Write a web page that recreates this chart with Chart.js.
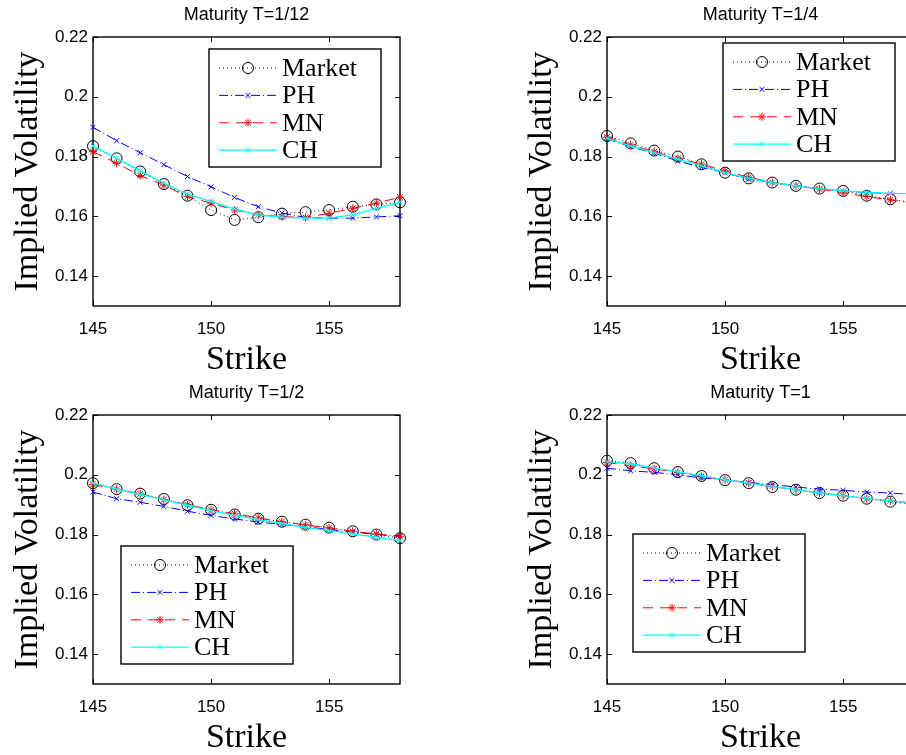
<!DOCTYPE html>
<html>
<head>
<meta charset="utf-8">
<title>Implied volatility by maturity</title>
<script src="https://cdn.jsdelivr.net/npm/chart.js@4.4.0/dist/chart.umd.min.js"></script>
<style>
  html, body { margin: 0; padding: 0; background: #fff; overflow: hidden; width: 906px; height: 755px; }
  canvas { position: absolute; }
</style>
</head>
<body>
<canvas id="c1" width="453" height="377" style="left:0;top:0"></canvas>
<canvas id="c2" width="453" height="377" style="left:514px;top:0"></canvas>
<canvas id="c3" width="453" height="377" style="left:0;top:378px"></canvas>
<canvas id="c4" width="453" height="377" style="left:514px;top:378px"></canvas>
<script>
// strikes and axis ticks
const STRIKES = [145, 146, 147, 148, 149, 150, 151, 152, 153, 154, 155, 156, 157, 158];
const X_TICKS = [145, 150, 155];
const Y_TICKS = [0.14, 0.16, 0.18, 0.2, 0.22];
const Y_TICK_LABELS = ["0.14", "0.16", "0.18", "0.2", "0.22"];
const SERIES_NAMES = ["Market", "PH", "MN", "CH"];

// T = 1/12
const MARKET_T12 = [0.1835, 0.1794, 0.1750, 0.1708, 0.1669, 0.1621, 0.1588, 0.1597, 0.1609, 0.1614, 0.1621, 0.1632, 0.1640, 0.1647];
const PH_T12     = [0.1898, 0.1853, 0.1813, 0.1773, 0.1733, 0.1699, 0.1663, 0.1632, 0.1611, 0.1596, 0.1594, 0.1594, 0.1598, 0.1602];
const MN_T12     = [0.1816, 0.1778, 0.1736, 0.1704, 0.1666, 0.1644, 0.1621, 0.1605, 0.1599, 0.1596, 0.1610, 0.1627, 0.1644, 0.1664];
const CH_T12     = [0.1835, 0.1794, 0.1753, 0.1711, 0.1674, 0.1649, 0.1624, 0.1605, 0.1597, 0.1594, 0.1594, 0.1605, 0.1627, 0.1647];

// T = 1/4
const MARKET_T4 = [0.1869, 0.1844, 0.1820, 0.1800, 0.1774, 0.1746, 0.1727, 0.1713, 0.1702, 0.1693, 0.1685, 0.1669, 0.1657, 0.1645];
const PH_T4     = [0.1859, 0.1833, 0.1811, 0.1785, 0.1764, 0.1746, 0.1724, 0.1713, 0.1702, 0.1693, 0.1685, 0.1679, 0.1677, 0.1676];
const MN_T4     = [0.1865, 0.1839, 0.1816, 0.1794, 0.1775, 0.1752, 0.1731, 0.1713, 0.1702, 0.1691, 0.1679, 0.1666, 0.1655, 0.1644];
const CH_T4     = [0.1861, 0.1835, 0.1813, 0.1791, 0.1769, 0.1746, 0.1727, 0.1713, 0.1702, 0.1693, 0.1685, 0.1680, 0.1677, 0.1676];

// T = 1/2
const MARKET_T2 = [0.1972, 0.1952, 0.1937, 0.1919, 0.1898, 0.1883, 0.1867, 0.1853, 0.1843, 0.1833, 0.1823, 0.1811, 0.1800, 0.1788];
const PH_T2     = [0.1942, 0.1920, 0.1908, 0.1894, 0.1878, 0.1864, 0.1852, 0.1842, 0.1834, 0.1826, 0.1817, 0.1808, 0.1801, 0.1794];
const MN_T2     = [0.1967, 0.1952, 0.1936, 0.1917, 0.1900, 0.1883, 0.1870, 0.1856, 0.1843, 0.1832, 0.1822, 0.1811, 0.1802, 0.1794];
const CH_T2     = [0.1972, 0.1952, 0.1934, 0.1917, 0.1898, 0.1880, 0.1864, 0.1850, 0.1837, 0.1824, 0.1813, 0.1802, 0.1791, 0.1780];

// T = 1
const MARKET_T1 = [0.2047, 0.2039, 0.2022, 0.2009, 0.1996, 0.1982, 0.1972, 0.1959, 0.1950, 0.1939, 0.1930, 0.1920, 0.1910, 0.1900];
const PH_T1     = [0.2022, 0.2013, 0.2008, 0.2000, 0.1989, 0.1983, 0.1974, 0.1967, 0.1959, 0.1952, 0.1948, 0.1942, 0.1939, 0.1933];
const MN_T1     = [0.2041, 0.2030, 0.2020, 0.2008, 0.1994, 0.1983, 0.1972, 0.1961, 0.1950, 0.1939, 0.1930, 0.1920, 0.1913, 0.1905];
const CH_T1     = [0.2044, 0.2036, 0.2023, 0.2010, 0.1997, 0.1983, 0.1972, 0.1961, 0.1950, 0.1939, 0.1930, 0.1921, 0.1913, 0.1906];

const SANS = 'Arial, "Liberation Sans", sans-serif';
const SERIF = '"Liberation Serif", "Times New Roman", serif';

// line / marker look of each series (matlab style)
const STYLES = [
  { color: "#000000", dash: [1, 3], pointStyle: "circle", radius: 5.5, width: 1 },
  { color: "#0000ff", dash: [9, 3, 1, 3], pointStyle: "crossRot", radius: 3.5, width: 1 },
  { color: "#ff0000", dash: [10, 7], pointStyle: "star", radius: 4, width: 1 },
  { color: "#00ffff", dash: [], pointStyle: "crossRot", radius: 3.5, width: 1.3 }
];

// full box + inward ticks on all four sides
const boxPlugin = {
  id: "matlabBox",
  beforeDatasetsDraw(chart) {
    const { ctx, chartArea: a, scales } = chart;
    ctx.save();
    ctx.strokeStyle = "#000";
    ctx.lineWidth = 1.4;
    ctx.strokeRect(a.left, a.top, a.right - a.left, a.bottom - a.top);
    ctx.lineWidth = 1;
    ctx.beginPath();
    X_TICKS.forEach(v => {
      const px = Math.round(scales.x.getPixelForValue(v)) + 0.5;
      ctx.moveTo(px, a.bottom); ctx.lineTo(px, a.bottom - 5);
      ctx.moveTo(px, a.top); ctx.lineTo(px, a.top + 5);
    });
    Y_TICKS.forEach(v => {
      const py = Math.round(scales.y.getPixelForValue(v)) + 0.5;
      ctx.moveTo(a.left, py); ctx.lineTo(a.left + 5, py);
      ctx.moveTo(a.right, py); ctx.lineTo(a.right - 5, py);
    });
    ctx.stroke();
    ctx.restore();
  }
};

// legend box placed inside the axes
const boxLegend = {
  id: "boxLegend",
  afterDatasetsDraw(chart, args, opts) {
    const { ctx, chartArea: a } = chart;
    const bx = a.left + opts.x, by = a.top + opts.y;
    ctx.save();
    ctx.fillStyle = "#fff";
    ctx.fillRect(bx, by, 172, 118);
    ctx.strokeStyle = "#000";
    ctx.lineWidth = 1.4;
    ctx.strokeRect(bx, by, 172, 118);
    chart.data.datasets.forEach((ds, i) => {
      const ry = by + 19 + i * 27.4;
      ctx.setLineDash(ds.borderDash || []);
      ctx.strokeStyle = ds.borderColor;
      ctx.lineWidth = ds.borderWidth;
      ctx.beginPath();
      ctx.moveTo(bx + 10, ry);
      ctx.lineTo(bx + 68, ry);
      ctx.stroke();
      ctx.setLineDash([]);
      ctx.lineWidth = 1;
      ctx.fillStyle = "rgba(0,0,0,0)";
      Chart.helpers.drawPoint(ctx, {
        pointStyle: ds.pointStyle, radius: ds.pointRadius, borderWidth: 1, rotation: 0
      }, bx + 39, ry);
      ctx.fillStyle = "#000";
      ctx.font = "26px " + SERIF;
      ctx.textBaseline = "middle";
      ctx.textAlign = "left";
      ctx.fillText(ds.label, bx + 73, ry + 1);
    });
    ctx.restore();
  }
};

function makePanel(id, title, series, legendPos) {
  const datasets = series.map((vals, i) => {
    const s = STYLES[i];
    return {
      label: SERIES_NAMES[i],
      data: STRIKES.map((k, j) => ({ x: k, y: vals[j] })),
      borderColor: s.color,
      borderWidth: s.width,
      borderDash: s.dash,
      pointStyle: s.pointStyle,
      pointRadius: s.radius,
      pointBorderColor: s.color,
      pointBackgroundColor: "rgba(0,0,0,0)",
      pointBorderWidth: 1,
      tension: 0,
      clip: false,
      order: 3 - i
    };
  });

  return new Chart(document.getElementById(id), {
    type: "line",
    data: { datasets },
    plugins: [boxPlugin, boxLegend],
    options: {
      responsive: false,
      animation: false,
      layout: { padding: { left: 0, right: 53, top: 0, bottom: 0 } },
      plugins: {
        legend: { display: false },
        tooltip: { enabled: false },
        title: {
          display: true, text: title, fullSize: false, color: "#000",
          font: { family: SANS, size: 18, weight: "normal" },
          padding: { top: 4, bottom: 11.4 }
        },
        boxLegend: legendPos
      },
      scales: {
        x: {
          type: "linear", min: 145, max: 158,
          afterBuildTicks: s => { s.ticks = X_TICKS.map(v => ({ value: v })); },
          afterFit: s => { s.height = 71; },
          grid: { drawOnChartArea: false, drawTicks: false },
          border: { display: false },
          ticks: { color: "#000", font: { family: SANS, size: 17 }, padding: 13, maxRotation: 0, autoSkip: false, callback: v => String(v) },
          title: { display: true, text: "Strike", color: "#000", font: { family: SERIF, size: 34, lineHeight: 1 }, padding: { top: 0, bottom: 0 } }
        },
        y: {
          type: "linear", min: 0.13, max: 0.22,
          afterBuildTicks: s => { s.ticks = Y_TICKS.map(v => ({ value: v })); },
          afterFit: s => { s.width = 93; },
          grid: { drawOnChartArea: false, drawTicks: false },
          border: { display: false },
          ticks: { color: "#000", font: { family: SANS, size: 17 }, padding: 5, callback: v => Y_TICK_LABELS[Y_TICKS.indexOf(v)] },
          title: { display: true, text: "Implied Volatility", color: "#000", font: { family: SERIF, size: 34, lineHeight: 1 }, padding: { top: 11, bottom: 0 } }
        }
      }
    }
  });
}

makePanel("c1", "Maturity T=1/12", [MARKET_T12, PH_T12, MN_T12, CH_T12], { x: 116, y: 12 });
makePanel("c2", "Maturity T=1/4", [MARKET_T4, PH_T4, MN_T4, CH_T4], { x: 116, y: 6 });
makePanel("c3", "Maturity T=1/2", [MARKET_T2, PH_T2, MN_T2, CH_T2], { x: 28, y: 131 });
makePanel("c4", "Maturity T=1", [MARKET_T1, PH_T1, MN_T1, CH_T1], { x: 26, y: 119 });
</script>
</body>
</html>
